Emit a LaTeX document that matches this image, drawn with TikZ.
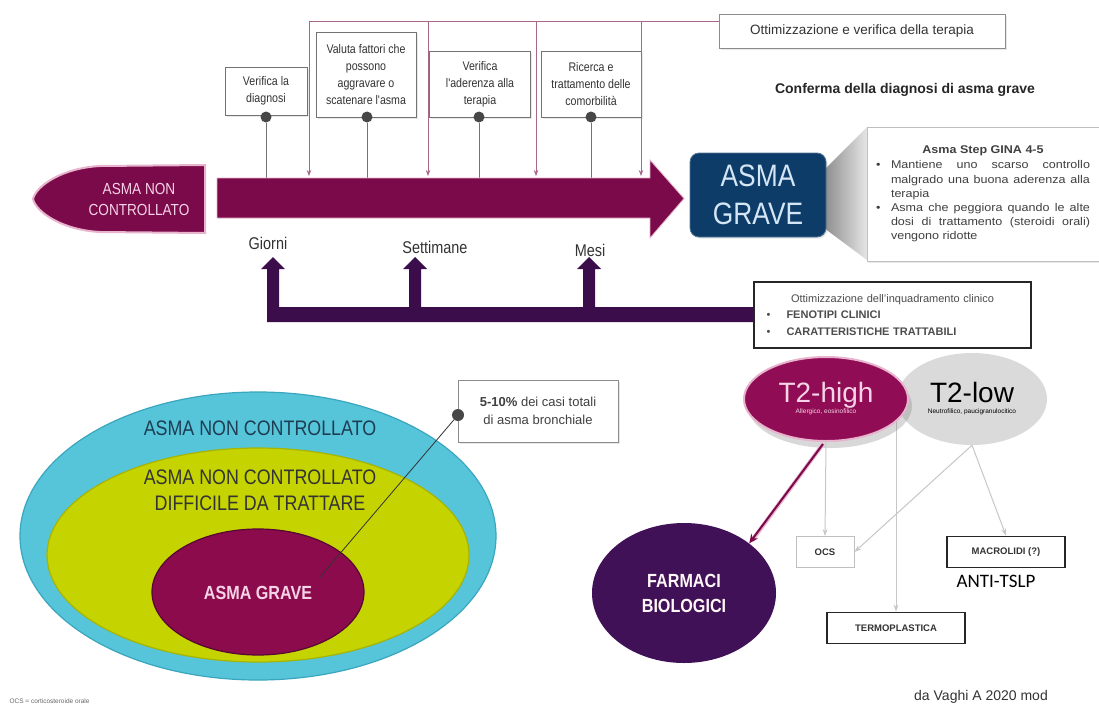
\documentclass[tikz,border=0pt]{standalone}
\usepackage{fontspec}
\setmainfont{Liberation Sans}
\newfontfamily\narrowf[FakeStretch=0.85]{Liberation Sans}
\newfontfamily\widef[FakeStretch=1.12]{Liberation Sans}
\newfontfamily\carl{Carlito}
\usetikzlibrary{arrows.meta,shadows,shapes.geometric,calc}
\newcommand\fsz[2]{\fontsize{#1}{#2}\selectfont}
\definecolor{mag}{HTML}{7B0A4A}
\definecolor{magl}{HTML}{E7B3CD}
\definecolor{pinkln}{HTML}{A8668A}
\definecolor{purp}{HTML}{3B0E4B}
\definecolor{navy}{HTML}{0D3C68}
\definecolor{cyanc}{HTML}{56C5DA}
\definecolor{cyanb}{HTML}{3AA6BE}
\definecolor{limec}{HTML}{C5D400}
\definecolor{limeb}{HTML}{A6B400}
\definecolor{innerm}{HTML}{8C0B4C}
\definecolor{thc}{HTML}{900C54}
\definecolor{tlc}{HTML}{DADADA}
\definecolor{farmc}{HTML}{411157}
\definecolor{txtpink}{HTML}{F6D3E6}
\definecolor{tealtxt}{HTML}{1E3D52}
\definecolor{agtxt}{HTML}{D4E6F6}
\begin{document}
\begin{tikzpicture}[x=1pt,y=-1pt,
  shd/.style={drop shadow={opacity=0.18,shadow xshift=1.5pt,shadow yshift=-1.5pt}},
  tbox/.style={shd,draw=black!55,fill=white,line width=0.6pt,inner sep=1pt,align=center,
    font=\narrowf\fsz{12.5}{17},text=black!80},
  obox/.style={shd,draw=black!45,fill=white,line width=0.8pt,inner sep=2pt,align=center,
    font=\fsz{13.5}{16},text=black!80},
  kbox/.style={draw=black!85,fill=white,line width=1.8pt,inner sep=2pt,align=center,
    font=\bfseries\fsz{9.5}{11},text=black!80},
  dotn/.style={circle,fill=black!72,minimum size=11pt,inner sep=0pt},
  pline/.style={pinkln,line width=0.8pt},
  parrow/.style={pinkln,line width=0.8pt,-{Stealth[length=6pt,width=4.5pt]}},
  gline/.style={black!55,line width=0.6pt},
  glarrow/.style={black!22,line width=1pt,-{Stealth[length=7pt,width=5pt]}},
  lbl/.style={font=\narrowf\fsz{17}{20},text=black!80},
  bigt/.style={font=\narrowf\fsz{21}{26},align=center}
]
\useasboundingbox (0,0) rectangle (1099,715);
\fill[white] (0,0) rectangle (1099,715);

% ---------------- top part ----------------
\node[obox,minimum width=286pt,minimum height=34pt] (ott) at (862,31) {Ottimizzazione e verifica della terapia};

\coordinate (v1) at (309,21);
\coordinate (v2) at (428,21);
\coordinate (v3) at (536,21);
\coordinate (v4) at (641,21);
\coordinate (v1b) at (309,176);
\coordinate (v2b) at (428,176);
\coordinate (v3b) at (536,176);
\coordinate (v4b) at (641,176);
\draw[pline] (v1) -- (ott.west |- v1);

\node[tbox,minimum width=82pt,minimum height=48pt] (b1) at (266,91) {Verifica la\\diagnosi};
\node[tbox,minimum width=100pt,minimum height=85pt] (b2) at (366,75) {Valuta fattori che\\possono\\aggravare o\\scatenare l'asma};
\node[tbox,minimum width=101pt,minimum height=66pt] (b3) at (480,84) {Verifica\\l'aderenza alla\\terapia};
\node[tbox,minimum width=100pt,minimum height=66pt] (b4) at (591,84) {Ricerca e\\trattamento delle\\comorbilità};

\draw[parrow] (v1) -- (v1b);
\draw[parrow] (v2) -- (v2b);
\draw[parrow] (v3) -- (v3b);
\draw[parrow] (v4) -- (v4b);

\node[dotn] (d1) at (266,117) {};
\node[dotn] (d2) at (367,117) {};
\node[dotn] (d3) at (479,117) {};
\node[dotn] (d4) at (591,117) {};
\draw[gline] (d1) -- (d1 |- 0,178);
\draw[gline] (d2) -- (d2 |- 0,178);
\draw[gline] (d3) -- (d3 |- 0,178);
\draw[gline] (d4) -- (d4 |- 0,178);

% main arrow
\fill[mag,draw=magl,line width=0.8pt] (217,178) -- (650,178) -- (650,160) -- (684,198.5) -- (650,238) -- (650,218) -- (217,218) -- cycle;
% left bullet shape
\fill[mag,draw=magl,line width=2pt] (205,165) -- (100,166) .. controls (62,168) and (36,186) .. (33,199)
  .. controls (36,212) and (62,230) .. (100,232) -- (205,233) -- cycle;
\node[font=\narrowf\fsz{16}{21},text=txtpink,align=center] (anc) at (139,199) {ASMA NON\\CONTROLLATO};

\node[lbl] (gio) at (268,243) {Giorni};
\node[lbl] (set) at (435,247) {Settimane};
\node[lbl] (mes) at (590,250) {Mesi};

% confirm
\node[font=\bfseries\fsz{14}{16},text=black!85] (conf) at (905,90) {Conferma della diagnosi di asma grave};

% callout
\shade[left color=black!45,right color=black!10] (824,170) -- (867,127) -- (867,260) -- (824,228) -- cycle;
\node[shd,fill=white,draw=black!25,line width=0.5pt,minimum width=232pt,minimum height=134pt,
  text width=214pt,inner xsep=9pt,align=justify,font=\widef\fsz{11.2}{14.2},text=black!75] (info) at (983,194)
{\hyphenpenalty=10000\exhyphenpenalty=10000
{\centering\bfseries Asma Step GINA 4-5\par}\vspace{1pt}
\hangindent=15pt\hangafter=1\noindent\makebox[15pt][l]{•}Mantiene uno scarso controllo malgrado una buona aderenza alla terapia\par
\hangindent=15pt\hangafter=1\noindent\makebox[15pt][l]{•}Asma che peggiora quando le alte dosi di trattamento (steroidi orali) vengono ridotte\par};

\node[shd,fill=navy,draw=navy!70!white,line width=0.8pt,rounded corners=9pt,minimum width=136pt,minimum height=84pt,
  align=center,font=\narrowf\fsz{31}{38},text=agtxt] (ag) at (758,195) {ASMA\\GRAVE};

% purple bracket
\fill[purp] (267,322) -- (267,269) -- (261,269) -- (273,257) -- (285,269) -- (279,269) -- (279,307)
  -- (409,307) -- (409,269) -- (403,269) -- (415,257) -- (427,269) -- (421,269) -- (421,307)
  -- (583,307) -- (583,269) -- (577,269) -- (589,257) -- (601,269) -- (595,269) -- (595,307)
  -- (756,307) -- (756,322) -- cycle;

\node[draw=black!85,fill=white,line width=1.8pt,minimum width=277pt,minimum height=66pt,
  text width=252pt,align=left,font=\fsz{11}{16.5},text=black!70] (clin) at (892.5,315)
{\makebox[252pt][c]{Ottimizzazione dell'inquadramento clinico}\\
\makebox[20pt][l]{•}\textbf{FENOTIPI CLINICI}\\
\makebox[20pt][l]{•}\textbf{CARATTERISTICHE TRATTABILI}};

% ---------------- bottom right ----------------
\node[kbox,draw=black!25,line width=1pt,minimum width=58pt,minimum height=31pt] (ocs) at (825,552) {OCS};
\node[kbox,minimum width=118pt,minimum height=31pt] (macro) at (1006,552) {MACROLIDI (?)};
\node[kbox,minimum width=138pt,minimum height=31pt] (termo) at (896,628) {TERMOPLASTICA};
\node[font=\carl\fsz{19}{22},text=black] (anti) at (996,581) {ANTI-TSLP};

\node[ellipse,fill=farmc,minimum width=184pt,minimum height=140pt,inner sep=0pt,
  align=center,font=\bfseries\narrowf\fsz{19}{25},text=white!88!pink] (farm) at (684,593) {FARMACI\\BIOLOGICI};

\node[ellipse,fill=tlc,minimum width=150pt,minimum height=92pt,inner sep=0pt,align=center] (t2l) at (972,399)
  {{\fsz{28}{28}T2-low}\\[-1pt]{\fsz{6.5}{7}Neutrofilico, paucigranulocitico}};
\draw[glarrow] (termo.north |- t2l.west) -- (termo.north);
\draw[glarrow] (t2l.south) -- (ocs.east);
\draw[glarrow] (t2l.south) -- (macro.north);
\node[ellipse,fill=thc,draw=magl,line width=2pt,minimum width=164pt,minimum height=84pt,inner sep=0pt,align=center,
  text=txtpink,drop shadow={opacity=0.3,shadow xshift=4pt,shadow yshift=-7pt}] (t2h) at (826,399)
  {{\fsz{28}{28}T2-high}\\[-1pt]{\fsz{6.5}{7}Allergico, eosinofilico}};
\draw[glarrow] (t2h.south) -- (ocs.north);
\draw[magl,line width=4pt] ($(t2h.south)+(-3,2)$) -- ($(farm.north east)+(3,-3)$);
\draw[mag,line width=2pt,-{Stealth[length=9pt,width=8pt]}] ($(t2h.south)+(-3,2)$) -- (farm.north east);

\node[font=\fsz{14}{16},text=black!80] (vaghi) at (981,697) {da Vaghi A 2020 mod};

% ---------------- bottom left ----------------
\node[ellipse,fill=cyanc,draw=cyanb,line width=1.2pt,minimum width=476pt,minimum height=288pt] (outer) at (258,536) {};
\node[ellipse,fill=limec,draw=limeb,line width=1.2pt,minimum width=422pt,minimum height=214pt] (mid) at (258,555) {};
\node[ellipse,fill=innerm,draw=mag!70!black,line width=1.2pt,minimum width=212pt,minimum height=126pt] (grave) at (258,592) {};
\node[bigt,text=tealtxt] (outt) at (260,428) {ASMA NON CONTROLLATO};
\node[bigt,text=black!80] (midt) at (260,490) {ASMA NON CONTROLLATO\\DIFFICILE DA TRATTARE};
\node[font=\bfseries\narrowf\fsz{19}{22},text=txtpink] (gravet) at (258,593) {ASMA GRAVE};

\node[shd,draw=black!45,fill=white,line width=0.7pt,minimum width=160pt,minimum height=62pt,align=center,
  font=\fsz{13}{18},text=black!75] (pct) at (538,411) {\textbf{5-10\%} dei casi totali\\di asma bronchiale};
\node[dotn,minimum size=12pt] (pdot) at (458,415) {};
\coordinate (gp) at (320,577);
\draw[black!80,line width=0.8pt] (pdot) -- (gp);

\node[anchor=west,font=\fsz{6.5}{8},text=black!60] (fn) at (6,701) {OCS = corticosteroide orale};
\end{tikzpicture}
\end{document}
